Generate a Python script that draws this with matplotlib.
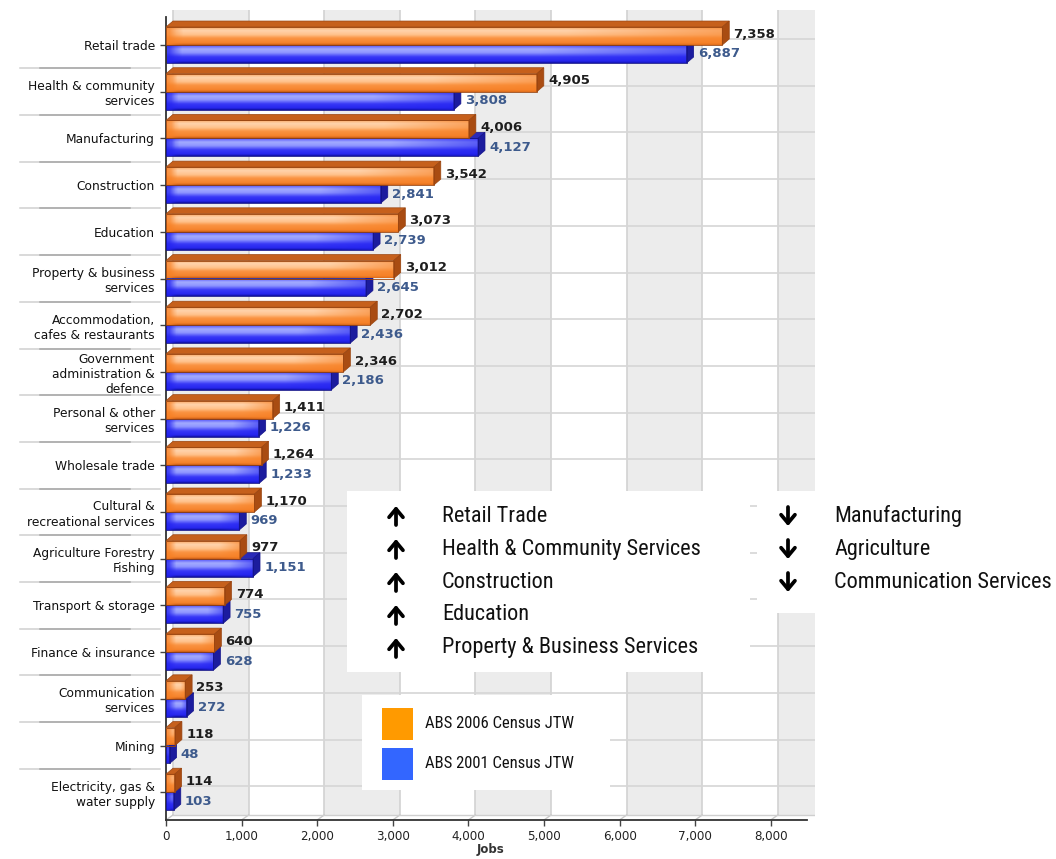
import numpy as np
import matplotlib
matplotlib.use("Agg")
import matplotlib.pyplot as plt
from matplotlib.patches import Rectangle, Polygon
from matplotlib.transforms import blended_transform_factory

# ---- data -------------------------------------------------------------
categories = [
    "Retail trade",
    "Health & community\nservices",
    "Manufacturing",
    "Construction",
    "Education",
    "Property & business\nservices",
    "Accommodation,\ncafes & restaurants",
    "Government\nadministration &\ndefence",
    "Personal & other\nservices",
    "Wholesale trade",
    "Cultural &\nrecreational services",
    "Agriculture Forestry\nFishing",
    "Transport & storage",
    "Finance & insurance",
    "Communication\nservices",
    "Mining",
    "Electricity, gas &\nwater supply",
]
jobs_2006 = [7358, 4905, 4006, 3542, 3073, 3012, 2702, 2346, 1411, 1264,
             1170, 977, 774, 640, 253, 118, 114]
jobs_2001 = [6887, 3808, 4127, 2841, 2739, 2645, 2436, 2186, 1226, 1233,
             969, 1151, 755, 628, 272, 48, 103]
x_ticks = [0, 1000, 2000, 3000, 4000, 5000, 6000, 7000, 8000]
series_names = ["ABS 2006 Census JTW", "ABS 2001 Census JTW"]
growth_up = ["Retail Trade", "Health & Community Services", "Construction",
             "Education", "Property & Business Services"]
growth_down = ["Manufacturing", "Agriculture", "Communication Services"]

# ---- figure / axes ----------------------------------------------------
W, H = 1056, 859
fig = plt.figure(figsize=(W / 100, H / 100), dpi=100)
fig.patch.set_facecolor("white")

px_per_k = 75.6          # pixels per 1,000 jobs
px_per_cat = 46.7        # pixels per category row
x0_px, y0_px = 166, 45   # pixel position of x=0 and of the first row centre
ax_top, ax_bot, ax_right = 10, 820, 815
xmax = (ax_right - x0_px) / px_per_k * 1000
ytop = (ax_top - y0_px) / px_per_cat
ybot = (ax_bot - y0_px) / px_per_cat

ax = fig.add_axes([x0_px / W, 1 - ax_bot / H, (ax_right - x0_px) / W,
                   (ax_bot - ax_top) / H])
ax.set_facecolor("white")

# depth of the 3D effect in data units
dx = 7 / px_per_k * 1000
dy = 6 / px_per_cat
wall_bot = (815 - y0_px) / px_per_cat

# back wall: alternating grey columns and grid lines
for k in range(0, 9, 2):
    left = k * 1000 + dx
    right = min((k + 1) * 1000 + dx, xmax)
    ax.add_patch(Rectangle((left, ytop), right - left, wall_bot - ytop,
                           facecolor="#ececec", edgecolor="none", zorder=0))
for k in range(0, 9):
    xg = k * 1000 + dx
    ax.plot([xg, xg], [ytop, wall_bot], color="#d2d2d2", lw=1.2, zorder=0.5)
    ax.plot([xg, k * 1000], [wall_bot, ybot], color="#c8c8c8", lw=1.0,
            zorder=0.5)
for i in range(len(categories)):
    ax.plot([dx, xmax], [i - dy, i - dy], color="#d6d6d6", lw=1.2, zorder=0.5)
ax.plot([dx, xmax], [wall_bot, wall_bot], color="#cfcfcf", lw=1.0, zorder=0.5)


def profile(stops, n=48):
    t = np.linspace(0, 1, n)
    pos = [s[0] for s in stops]
    cols = np.array([s[1] for s in stops])
    return np.stack([np.interp(t, pos, cols[:, c]) for c in range(3)], axis=1)


orange_prof = profile([
    (0.00, (0.98, 0.66, 0.40)),
    (0.18, (1.00, 0.83, 0.68)),
    (0.42, (1.00, 0.76, 0.55)),
    (0.62, (0.98, 0.58, 0.26)),
    (0.90, (0.96, 0.51, 0.17)),
    (1.00, (0.78, 0.36, 0.08)),
])
blue_prof = profile([
    (0.00, (0.32, 0.32, 0.98)),
    (0.22, (0.64, 0.67, 1.00)),
    (0.42, (0.56, 0.59, 1.00)),
    (0.66, (0.22, 0.22, 0.97)),
    (0.90, (0.15, 0.15, 0.93)),
    (1.00, (0.06, 0.06, 0.62)),
])
orange_base = np.array([0.97, 0.50, 0.14])
blue_base = np.array([0.14, 0.14, 0.94])

bar_h = 0.385
z = [2.0]
edge_fade = 130     # width of the shaded left end, in jobs


def draw_bar(value, yc, prof, base, top_col, side_col, edge_col):
    ya, yb = yc - bar_h / 2, yc + bar_h / 2
    nx = 80
    xs = np.linspace(0, value, nx)
    frac = xs / max(value, 1)
    right_w = np.clip(1 - (frac - 0.72) / 0.28 * 0.55, 0.45, 1.0)
    left_w = np.clip(xs / edge_fade, 0.25, 1.0)
    w = right_w * left_w
    img = base[None, None, :] + (prof[:, None, :] - base[None, None, :]) * w[None, :, None]
    img = np.clip(img, 0, 1)
    im = ax.imshow(img, extent=(0, value, yb, ya), origin="upper",
                   aspect="auto", interpolation="bilinear", zorder=z[0])
    im.set_clip_path(Rectangle((0, ya), value, bar_h, transform=ax.transData))
    ax.add_patch(Rectangle((0, ya), value, bar_h, facecolor="none",
                           edgecolor=edge_col, lw=0.6, zorder=z[0] + 0.2))
    ax.add_patch(Polygon([(0, ya), (value, ya), (value + dx, ya - dy),
                          (dx, ya - dy)], closed=True, facecolor=top_col,
                         edgecolor=edge_col, lw=0.5, zorder=z[0] + 0.1))
    ax.add_patch(Polygon([(value, ya), (value + dx, ya - dy),
                          (value + dx, yb - dy), (value, yb)], closed=True,
                         facecolor=side_col, edgecolor=edge_col, lw=0.5,
                         zorder=z[0] + 0.1))
    z[0] += 1


for i in range(len(categories)):
    yc_new = i - bar_h / 2
    yc_old = i + bar_h / 2
    draw_bar(jobs_2001[i], yc_old, blue_prof, blue_base,
             "#2a2ab8", "#1c1c9e", "#14148a")
    draw_bar(jobs_2006[i], yc_new, orange_prof, orange_base,
             "#c6601c", "#a94c12", "#9a4510")
    gap = 55
    ax.text(jobs_2006[i] + dx + gap, yc_new - 0.04, f"{jobs_2006[i]:,}",
            ha="left", va="center", fontsize=9.5, fontweight="bold",
            color="#1e1e1e", zorder=200)
    ax.text(jobs_2001[i] + dx + gap, yc_old, f"{jobs_2001[i]:,}",
            ha="left", va="center", fontsize=9.5, fontweight="bold",
            color="#3d5a8c", zorder=200)

# axes styling
ax.set_xlim(0, xmax)
ax.set_ylim(ybot, ytop)
ax.set_yticks(range(len(categories)))
ax.set_yticklabels(categories, fontsize=8.8, color="#111111")
ax.set_xticks(x_ticks)
ax.set_xticklabels([f"{v:,}" for v in x_ticks], fontsize=8.6, color="#222222")
ax.tick_params(axis="y", length=4, width=1, color="#444444", pad=4)
ax.tick_params(axis="x", length=4, width=1, color="#444444", pad=3)
for s in ["top", "right"]:
    ax.spines[s].set_visible(False)
ax.spines["left"].set_color("#333333")
ax.spines["left"].set_linewidth(1.3)
ax.spines["bottom"].set_color("#333333")
ax.spines["bottom"].set_linewidth(1.3)
ax.spines["bottom"].set_bounds(0, (807 - x0_px) / px_per_k * 1000)
ax.spines["left"].set_bounds(ybot, ytop + dy * 1.2)
ax.set_xlabel("Jobs", fontsize=8.5, fontweight="bold", color="#333333",
              labelpad=0)

# separators between category labels
sep_tr = blended_transform_factory(fig.transFigure, ax.transData)
for i in range(len(categories) - 1):
    yb_ = i + 0.5
    ax.plot([20 / W, 160 / W], [yb_, yb_], color="#d0d0d0", lw=1.1,
            transform=sep_tr, clip_on=False)
    ax.plot([40 / W, 130 / W], [yb_, yb_], color="#a8a8a8", lw=1.1,
            transform=sep_tr, clip_on=False)

# ---- overlay: growth notes and legend --------------------------------
ov = fig.add_axes([0, 0, 1, 1], zorder=10)
ov.set_xlim(0, W)
ov.set_ylim(H, 0)
ov.axis("off")
ov.patch.set_alpha(0)

ov.add_patch(Rectangle((347, 491), 403, 181, facecolor="white",
                       edgecolor="none"))
ov.add_patch(Rectangle((757, 491), 299, 122, facecolor="white",
                       edgecolor="none"))
ov.add_patch(Rectangle((362, 695), 248, 95, facecolor="white",
                       edgecolor="none"))

narrow = ["Roboto Condensed", "IBM Plex Sans Condensed", "DejaVu Sans"]
row_y = [516, 549, 582, 615, 648]


def arrow(xc, yc, up):
    tip, tail = (yc - 10, yc + 9) if up else (yc + 10, yc - 9)
    ov.annotate("", xy=(xc, tip), xytext=(xc, tail),
                arrowprops=dict(arrowstyle="->,head_length=0.6,head_width=0.5",
                                lw=2.7, color="black", shrinkA=0, shrinkB=0))


for txt, yy in zip(growth_up, row_y):
    arrow(396, yy, True)
    ov.text(442, yy, txt, ha="left", va="center", fontsize=16,
            color="#111111", family=narrow)
for txt, yy in zip(growth_down, row_y):
    arrow(788, yy, False)
    ov.text(834, yy, txt, ha="left", va="center", fontsize=16,
            color="#111111", family=narrow)

legend_colors = ["#ff9a00", "#3366ff"]
for name, col, yy in zip(series_names, legend_colors, [724, 764]):
    ov.add_patch(Rectangle((382, yy - 16), 31, 32, facecolor=col,
                           edgecolor="none"))
    ov.text(425, yy, name, ha="left", va="center", fontsize=12,
            color="#111111", family=narrow)

fig.savefig("out.png", dpi=100, facecolor="white")
